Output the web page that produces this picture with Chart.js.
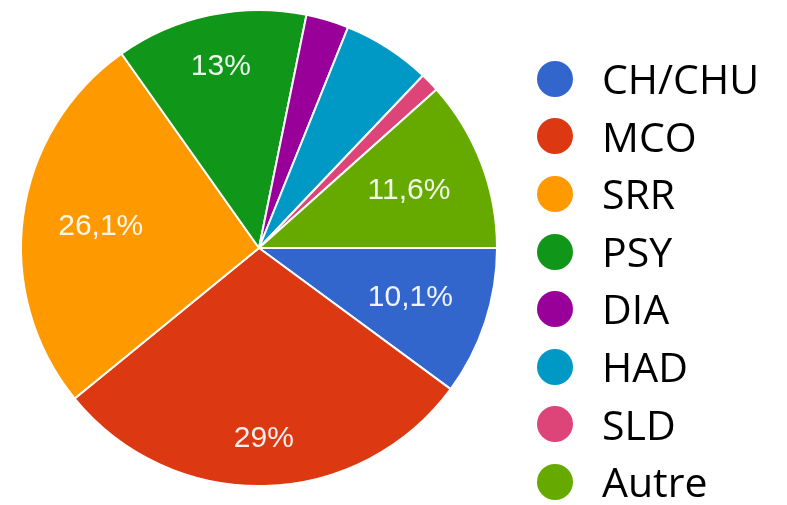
<!DOCTYPE html>
<html>
<head>
<meta charset="utf-8">
<title>Répartition par type d'établissement</title>
<script src="https://cdn.jsdelivr.net/npm/chart.js@4.4.1/dist/chart.umd.min.js"></script>
<style>
	html, body { margin: 0; padding: 0; background: #ffffff; }
	#wrap { position: relative; width: 787px; height: 505px; }
	#legend {
		position: absolute; left: 537px; top: 50px;
		margin: 0; padding: 0; list-style: none;
		font-family: "Open Sans", sans-serif; font-size: 41px; color: #000000;
	}
	#legend li { display: flex; align-items: center; height: 57.6px; line-height: 57.6px; }
	#legend .dot { width: 36px; height: 36px; border-radius: 50%; margin-right: 29px; flex: none; }
</style>
</head>
<body>
<div id="wrap">
	<canvas id="myChart" width="787" height="505"></canvas>
	<ul id="legend"></ul>
</div>
<script>
/*
 * VARIABLES
 */
	var labels = ["CH/CHU", "MCO", "SRR", "PSY", "DIA", "HAD", "SLD", "Autre"];
	var values = [10.1, 29, 26.1, 13, 2.9, 6.0, 1.3, 11.6];
	var colors = ['#3366cc', '#dc3912', '#ff9900', '#109618', '#990099', '#0099c6', '#dd4477', '#66aa00'];

	/* slices smaller than this get no percentage label */
	var labelThreshold = 8;

/*
 * PLUGINS
 */
	/* DRAW - percentage text inside the big slices */
	var sliceLabels = {
		id: 'sliceLabels',
		afterDatasetsDraw: function(chart) {
			var ctx = chart.ctx;
			var meta = chart.getDatasetMeta(0);
			ctx.save();
			ctx.font = '30px "Liberation Sans", Arial, sans-serif';
			ctx.fillStyle = 'rgba(255, 255, 255, 0.92)';
			ctx.textAlign = 'center';
			ctx.textBaseline = 'middle';
			meta.data.forEach(function(arc, i) {
				var v = values[i];
				if (v < labelThreshold) return;
				var text = String(v).replace('.', ',') + '%';
				var p = arc.getProps(['x', 'y', 'startAngle', 'endAngle', 'outerRadius'], true);
				var mid = (p.startAngle + p.endAngle) / 2;
				var ux = Math.cos(mid), uy = Math.sin(mid);
				var hw = ctx.measureText(text).width / 2;
				var hh = 12;
				var dist = p.outerRadius * 0.855 - (hw * Math.abs(ux) + hh * Math.abs(uy));
				ctx.fillText(text, p.x + ux * dist, p.y + uy * dist);
			});
			ctx.restore();
		}
	};

/*
 * CHART
 */
	var myChart = new Chart(document.getElementById('myChart'), {
		type: 'pie',
		data: {
			labels: labels,
			datasets: [{
				data: values,
				backgroundColor: colors,
				borderColor: '#ffffff',
				borderWidth: 2
			}]
		},
		options: {
			responsive: false,
			animation: false,
			rotation: 90,
			layout: {
				padding: { left: 20, right: 289, top: 9, bottom: 18 }
			},
			plugins: {
				legend: { display: false },
				tooltip: { enabled: false }
			}
		},
		plugins: [sliceLabels]
	});

/*
 * LEGEND
 */
	/* BUILD - html legend from the chart's own data */
	function buildLegend(chart) {
		var ul = document.getElementById('legend');
		var ds = chart.data.datasets[0];
		chart.data.labels.forEach(function(name, i) {
			var li = document.createElement('li');
			var dot = document.createElement('span');
			dot.className = 'dot';
			dot.style.background = ds.backgroundColor[i];
			li.appendChild(dot);
			li.appendChild(document.createTextNode(name));
			ul.appendChild(li);
		});
	}
	buildLegend(myChart);
</script>
</body>
</html>
